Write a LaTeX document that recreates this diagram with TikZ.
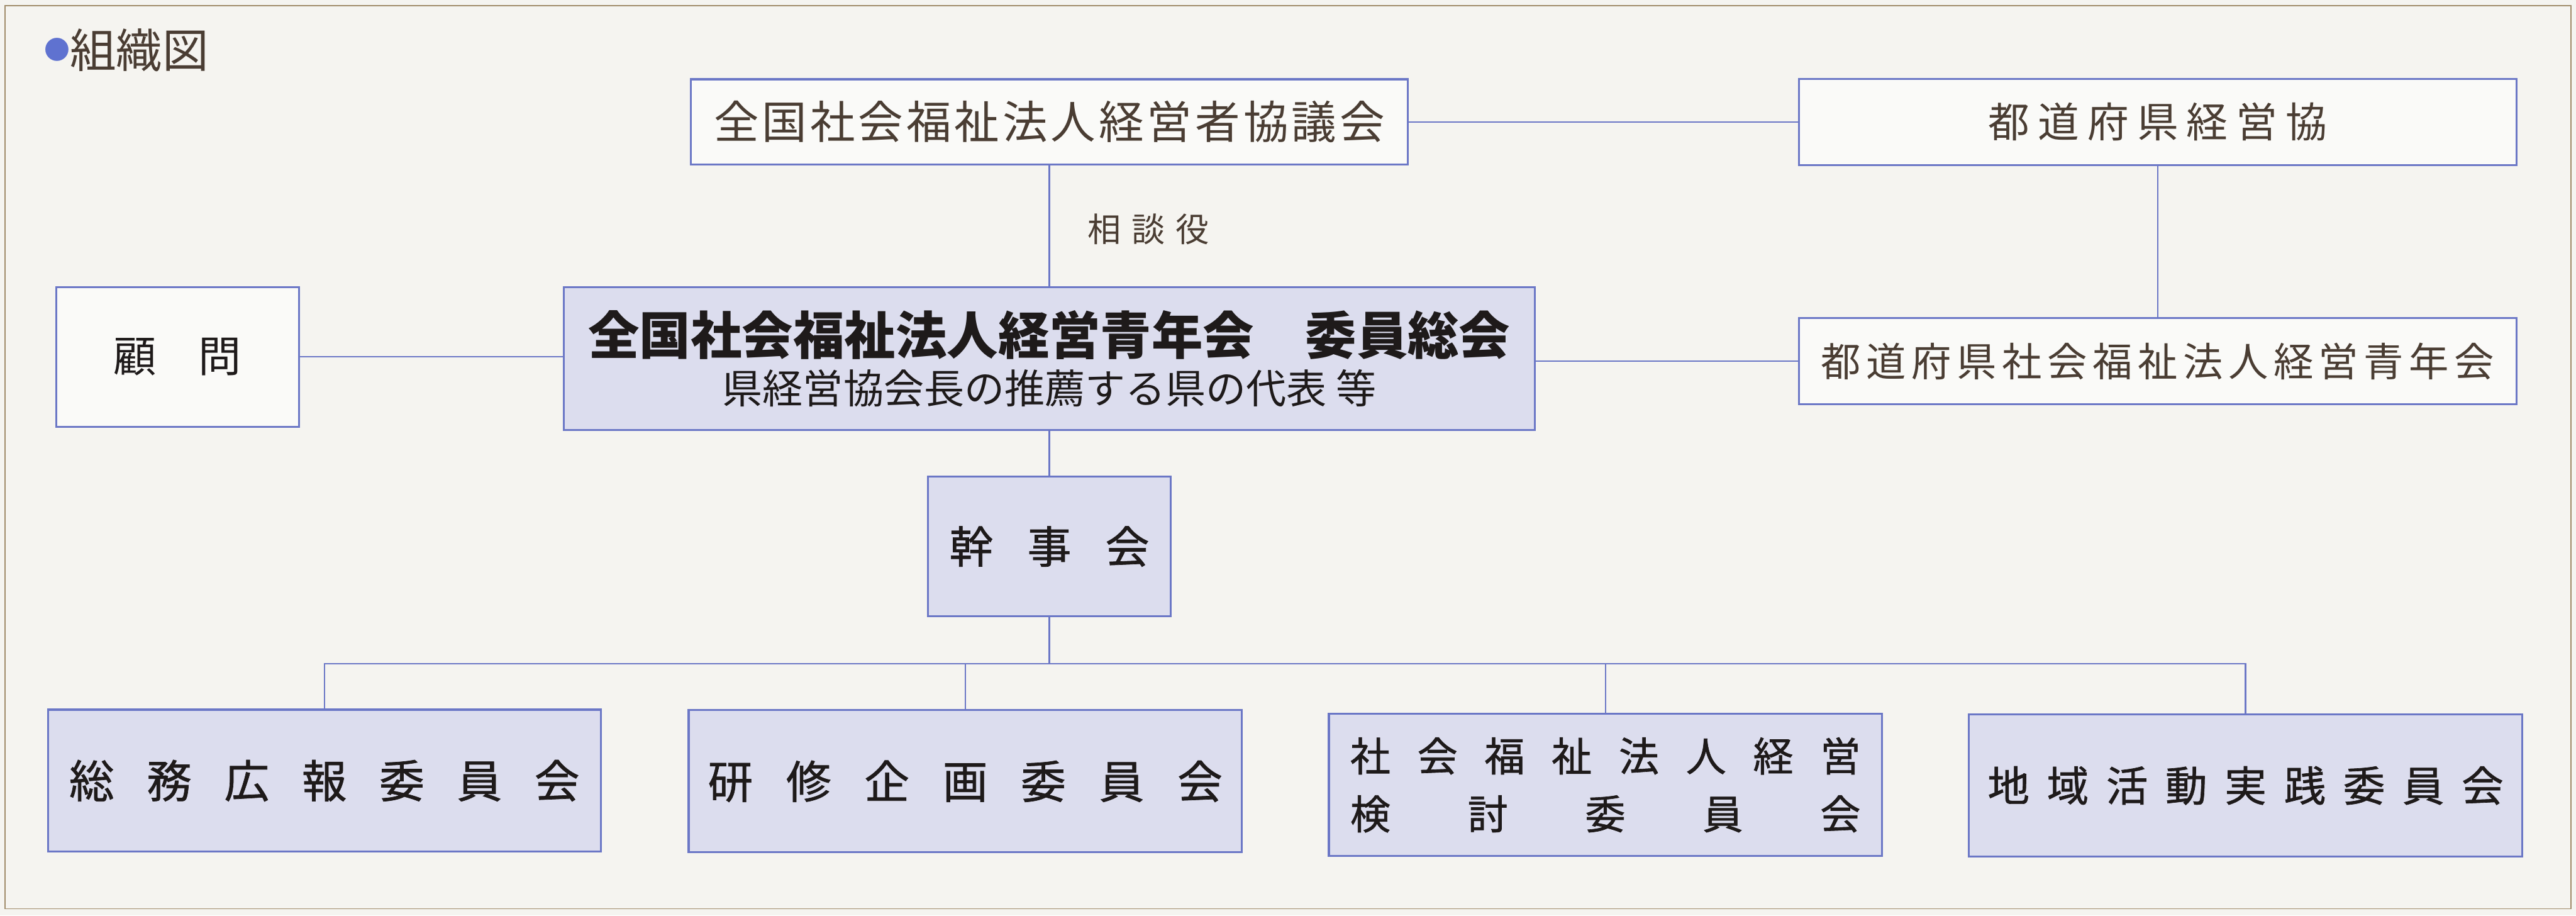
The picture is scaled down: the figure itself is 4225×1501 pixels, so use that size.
\documentclass[tikz,border=0pt]{standalone}
\usepackage{fontspec}
\setmainfont{Noto Sans CJK JP}
\usetikzlibrary{positioning}
\definecolor{paper}{HTML}{F5F4F0}
\definecolor{rule}{HTML}{6B77C6}
\definecolor{lavender}{HTML}{DCDDEE}
\definecolor{ink}{HTML}{1E1A1A}
\definecolor{sepia}{HTML}{4A3D33}
\definecolor{bullet}{HTML}{5F72D0}
\definecolor{edge}{HTML}{A08C6A}
\makeatletter
% spread the characters evenly over a given width
\newcommand\kintou[2]{\makebox[#1][s]{\let\kt@gap\relax\@tfor\kt@ch:=#2\do{\kt@gap\kt@ch\let\kt@gap\hfill}}}
\makeatother
\tikzset{
  link/.style={draw=rule,line width=.65pt},
  box/.style={draw=rule,line width=.9pt,inner sep=0pt,fill=white!55!paper,text=sepia},
  unit/.style={box,fill=lavender,text=ink},
  committee/.style={unit,minimum width=9.07cm,minimum height=2.33cm},
  fs/.style={font=\fontsize{#1}{#1}\selectfont},
  heavy/.style={font=\fontsize{#1}{#1}\selectfont\addfontfeatures{FakeBold=1}}}

\begin{document}
\begin{tikzpicture}[x=0.1mm,y=-0.1mm]
\fill[paper] (0,0) rectangle (4225,1501);
\useasboundingbox (0,0) rectangle (4225,1501);
\draw[edge,line width=.5pt] (8,9) rectangle (4217,1490);

\node[anchor=west,inner sep=0pt,text=sepia,fs=21.6] (title) at (72,82) {\raisebox{.13cm}{\fontsize{12}{12}\selectfont\color{bullet}●}組織図};

% upper row
\node[box,minimum width=11.75cm,minimum height=1.4cm,fs=21] (kyogikai) at (1721,200) {\kintou{11cm}{全国社会福祉法人経営者協議会}};
\node[box,minimum width=11.76cm,minimum height=1.41cm,fs=19.3] (kenkeieikyo) at (3539,200) {\kintou{5.55cm}{都道府県経営協}};

% middle row
\node[box,text=ink,minimum width=3.98cm,minimum height=2.29cm,fs=20] (komon) at (291,585) {\kintou{2.1cm}{顧問}};
\node[unit,minimum width=15.93cm,minimum height=2.35cm,align=center,font=\fontsize{23.9}{22.8}\selectfont] (sokai) at (1721,588)
  {\bfseries 全国社会福祉法人経営青年会　委員総会\\\mdseries\fontsize{18.8}{22.8}\selectfont 県経営協会長の推薦する県の代表 等};
\node[box,minimum width=11.77cm,minimum height=1.42cm,fs=18.6] (kenseinen) at (3539,592) {\kintou{11.04cm}{都道府県社会福祉法人経営青年会}};
\node[unit,minimum width=3.99cm,minimum height=2.29cm,heavy=20.5] (kanji) at (1721,896) {\kintou{3.28cm}{幹事会}};

% committees
\node[committee,heavy=21] (somu) at (532,1280) {\kintou{8.37cm}{総務広報委員会}};
\node[committee,heavy=21] (kenshu) at (1583,1281) {\kintou{8.44cm}{研修企画委員会}};
\node[committee,align=center,font=\fontsize{18.8}{27}\selectfont\addfontfeatures{FakeBold=1}] (kento) at (2633,1287) {\kintou{8.37cm}{社会福祉法人経営}\\\kintou{8.37cm}{検討委員会}};
\node[committee,heavy=19.5] (chiiki) at (3683,1288) {\kintou{8.46cm}{地域活動実践委員会}};

\draw[link] (kyogikai) -- (kenkeieikyo);
\draw[link] (kyogikai) -- (sokai) node[pos=.53,right=.62cm,inner sep=0pt,text=sepia,fs=15.6] (sodan) {\kintou{1.99cm}{相談役}};
\draw[link] (kenkeieikyo) -- (kenseinen);
\draw[link] (komon.east) -- (komon.east -| sokai.west);
\draw[link] (sokai.east |- kenseinen.west) -- (kenseinen.west);
\draw[link] (sokai) -- (kanji);
\coordinate (bus) at (1721,1088);
\draw[link] (kanji) -- (bus);
\foreach \c in {somu,kenshu,kento,chiiki}
  \draw[link] (\c.north) |- (bus);
\end{tikzpicture}
\end{document}
